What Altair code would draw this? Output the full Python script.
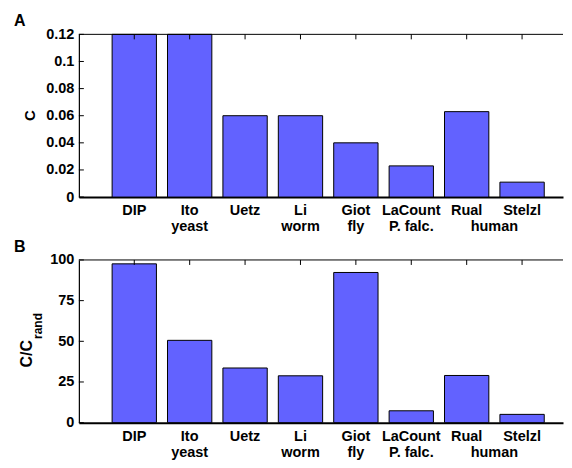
import altair as alt
import pandas as pd

# ---- data ----
categories = ["DIP", "Ito", "Uetz", "Li", "Giot", "LaCount", "Rual", "Stelzl"]
sublabels = ["", "yeast", "", "worm", "fly", "P. falc.", "", ""]
group_names = ["human"]
group_between = [("Rual", "Stelzl")]

c_values = [0.12, 0.12, 0.06, 0.06, 0.04, 0.023, 0.063, 0.011]
ratio_values = [97.6, 50.6, 33.6, 28.8, 92.3, 7.3, 29.0, 5.1]

c_ticks = [0, 0.02, 0.04, 0.06, 0.08, 0.1, 0.12]
ratio_ticks = [0, 25, 50, 75, 100]

# ---- style ----
FONT = "Liberation Sans"
FILL = "#6262ff"
W, H = 485, 163
XMAX = W / 55.5  # one category step is 55.5 px in the reference
LBL = 14.5


def panel(values, yticks, fmt, letter, title_main, title_sub):
    pos = list(range(1, len(categories) + 1))
    df = pd.DataFrame({
        "pos": pos,
        "name": categories,
        "sub": sublabels,
        "value": values,
    })
    df["label"] = df["name"] + "\n" + df["sub"]
    base = alt.Chart(df).transform_calculate(
        lo="datum.pos - 0.4", hi="datum.pos + 0.4", zero="0"
    )
    xscale = alt.Scale(domain=[0, XMAX], nice=False, zero=False)
    yscale = alt.Scale(domain=[0, yticks[-1]], nice=False)
    xaxis = alt.Axis(labels=False, ticks=False, grid=False, title=None,
                     domainColor="black", domainWidth=2)
    yaxis = alt.Axis(values=yticks, format=fmt, ticks=False, grid=False,
                     title=None, labelFont=FONT, labelFontSize=LBL,
                     labelFontWeight="bold", labelColor="black",
                     labelPadding=5, domainColor="black", domainWidth=1.2)

    def X(f):
        return alt.X(f, scale=xscale, axis=xaxis, title=None)

    def Y(f):
        return alt.Y(f, scale=yscale, axis=yaxis, title=None)

    bars = base.mark_bar(color=FILL, stroke="black", strokeWidth=1).encode(
        x=X("lo:Q"), x2="hi:Q", y=Y("value:Q"), y2="zero:Q",
    )

    top_ticks = base.mark_rule(color="black", strokeWidth=1).encode(
        x=X("pos:Q"), y=alt.value(0), y2=alt.value(5),
    )
    left_ticks = alt.Chart(pd.DataFrame({"t": yticks})).mark_rule(
        color="black", strokeWidth=1).encode(
        y=Y("t:Q"), x=alt.value(0), x2=alt.value(5),
    )
    one = alt.Chart(pd.DataFrame({"a": [0]}))
    top_line = one.mark_rule(color="black", strokeWidth=1).encode(
        x=alt.value(0), x2=alt.value(W), y=alt.value(0)
    )

    xlabels = base.mark_text(
        font=FONT, fontSize=LBL, fontWeight="bold", color="black",
        baseline="alphabetic", align="center", lineBreak="\n", lineHeight=16,
    ).encode(x=X("pos:Q"), y=alt.value(H + 18), text="label:N")

    gpos = [(categories.index(a) + 1 + categories.index(b) + 1) / 2
            for a, b in group_between]
    gdf = pd.DataFrame({"g": group_names, "gpos": gpos})
    glabels = alt.Chart(gdf).mark_text(
        font=FONT, fontSize=LBL, fontWeight="bold", color="black",
        baseline="alphabetic", align="center",
    ).encode(x=X("gpos:Q"), y=alt.value(H + 34), text="g:N")

    letter_t = one.mark_text(
        text=letter, font=FONT, fontSize=16, fontWeight="bold", color="black",
        align="left", baseline="top",
    ).encode(x=alt.value(-65), y=alt.value(-21))

    layers = [bars, left_ticks, top_ticks, top_line, xlabels, glabels, letter_t]
    if title_sub:
        layers.append(one.mark_text(
            text=title_main, font=FONT, fontSize=16, fontWeight="bold",
            color="black", angle=270, align="center", baseline="middle",
        ).encode(x=alt.value(-52), y=alt.value(H * 0.576)))
        layers.append(one.mark_text(
            text=title_sub, font=FONT, fontSize=12, fontWeight="bold",
            color="black", angle=270, align="center", baseline="middle",
        ).encode(x=alt.value(-41), y=alt.value(H * 0.406)))
    else:
        layers.append(one.mark_text(
            text=title_main, font=FONT, fontSize=15, fontWeight="bold",
            color="black", angle=270, align="center", baseline="middle",
        ).encode(x=alt.value(-49), y=alt.value(H / 2)))

    return alt.layer(*layers).properties(width=W, height=H)


pa = panel(c_values, c_ticks, ".2~f", "A", "C", None)
pb = panel(ratio_values, ratio_ticks, "d", "B", "C/C", "rand")

chart = alt.vconcat(pa, pb, spacing=63, bounds="flush").properties(
    padding={"left": 6, "top": 5, "right": 0, "bottom": 0}
).configure_view(stroke=None)

chart.save("out.html", embed_options={"renderer": "svg", "actions": False})
